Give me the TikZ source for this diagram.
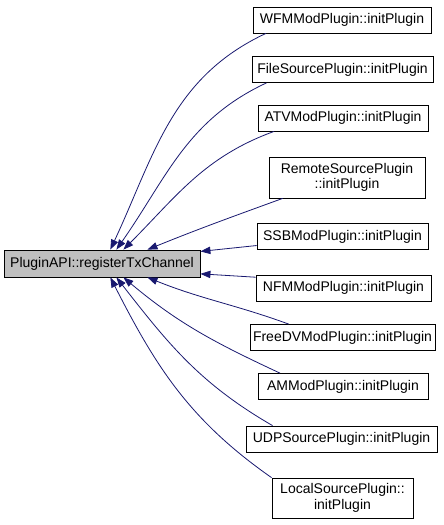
\documentclass[tikz,border=0pt]{standalone}
\usepackage{fontspec}
\setmainfont{Liberation Sans}
\usepackage{xcolor}
\usetikzlibrary{arrows.meta}
\definecolor{edgeblue}{HTML}{191970}
\definecolor{rootgray}{HTML}{BFBFBF}
\tikzset{
  fnnode/.style = {rectangle, draw=black, fill=white, line width=0.6pt,
                   inner sep=0pt, minimum height=19.5pt, align=center,
                   font=\fontsize{10.5}{11.5}\selectfont},
  rootnode/.style = {fnnode, fill=rootgray, minimum height=20.25pt},
  calledge/.style = {draw=edgeblue, line width=0.6pt,
                     -{Triangle[length=7.5pt,width=5.5pt]}},
}

\begin{document}
\begin{tikzpicture}[x=0.75pt,y=0.75pt]

  \useasboundingbox (0,0) rectangle (443,-525);

  % Callee
  \node[rootnode, minimum width=147pt] (root) at (102,-263.5) {PluginAPI::registerTxChannel};

  % Callers
  \node[fnnode, minimum width=133.5pt] (wfm) at (342,-20) {WFMModPlugin::initPlugin};
  \node[fnnode, minimum width=135.75pt] (filesrc) at (342.5,-69.5) {FileSourcePlugin::initPlugin};
  \node[fnnode, minimum width=127.5pt] (atv) at (343,-118) {ATVModPlugin::initPlugin};
  \node[fnnode, minimum width=117pt, minimum height=30.75pt] (remotesrc) at (347,-177.5)
    {RemoteSourcePlugin\\::initPlugin};
  \node[fnnode, minimum width=128.25pt] (ssb) at (342.5,-236.5) {SSBModPlugin::initPlugin};
  \node[fnnode, minimum width=131.25pt] (nfm) at (343.5,-288) {NFMModPlugin::initPlugin};
  \node[fnnode, minimum width=138.75pt] (freedv) at (342.5,-337.5) {FreeDVModPlugin::initPlugin};
  \node[fnnode, minimum width=127.5pt] (am) at (343,-386.5) {AMModPlugin::initPlugin};
  \node[fnnode, minimum width=143.25pt] (udpsrc) at (341.5,-439) {UDPSourcePlugin::initPlugin};
  \node[fnnode, minimum width=105.75pt, minimum height=30pt] (localsrc) at (342.5,-498)
    {LocalSourcePlugin::\\initPlugin};

  % Edges: callers to callee
  \draw[calledge] (wfm.190) to[out=205,in=65] (root.59);
  \draw[calledge] (filesrc.190) to[out=205,in=55] (root.44);
  \draw[calledge] (atv.191) to[out=200,in=45] (root.33);
  \draw[calledge] (remotesrc.198) to[out=200,in=22] (root.17);
  \draw[calledge] (ssb.186) -- (root.7);
  \draw[calledge] (nfm.173) -- (root.-6);
  \draw[calledge] (freedv.166) to[out=160,in=-22] (root.-17);
  \draw[calledge] (am.168) to[out=155,in=-40] (root.-33);
  \draw[calledge] (udpsrc.169) to[out=150,in=-52] (root.-44);
  \draw[calledge] (localsrc.164) to[out=145,in=-63] (root.-59);

\end{tikzpicture}
\end{document}
